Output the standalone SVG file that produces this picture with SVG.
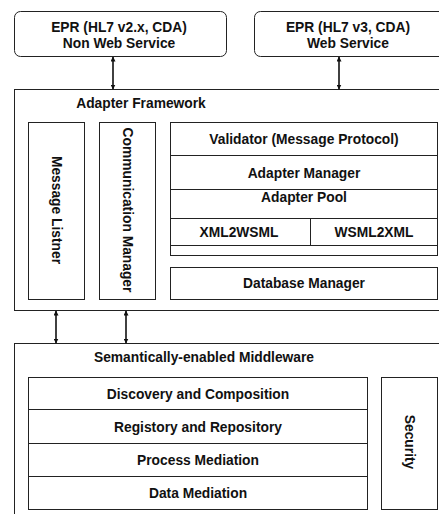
<svg xmlns="http://www.w3.org/2000/svg" width="439" height="514" viewBox="0 0 439 514">
<style>
.b{fill:#fff;stroke:#222;stroke-width:1}
.t{font-family:"Liberation Sans",Arial,sans-serif;font-weight:bold;font-size:13.8px;fill:#111;text-anchor:middle;dominant-baseline:central}
.c{stroke:#111;stroke-width:1.6;fill:none;marker-start:url(#a);marker-end:url(#a)}
</style>
<defs>
<marker id="a" viewBox="0 0 10 10" refX="9" refY="5" markerWidth="5" markerHeight="5" orient="auto-start-reverse" markerUnits="userSpaceOnUse"><path d="M0,0L10,5L0,10z" fill="#111"/></marker>
</defs>
<rect width="439" height="514" fill="#fff"/>
<g id="epr-nonws"><rect class="b" x="14.5" y="11.5" width="212" height="45" rx="6"/><text class="t" x="119" y="27">EPR (HL7 v2.x, CDA)</text><text class="t" x="119" y="43">Non Web Service</text></g>
<g id="epr-ws"><rect class="b" x="254.5" y="11.5" width="200" height="45" rx="6"/><text class="t" x="348" y="27">EPR (HL7 v3, CDA)</text><text class="t" x="348" y="43">Web Service</text></g>
<g id="adapter-framework"><rect class="b" x="14.5" y="89.5" width="440" height="221"/><text class="t" x="141" y="103">Adapter Framework</text></g>
<g id="message-listner"><rect class="b" x="28.5" y="122.5" width="56" height="177"/><text class="t" transform="translate(56,210) rotate(90)">Message Listner</text></g>
<g id="communication-manager"><rect class="b" x="99.5" y="122.5" width="56" height="177"/><text class="t" transform="translate(127,210) rotate(90)">Communication Manager</text></g>
<g id="adapter-stack"><rect class="b" x="170.5" y="122.5" width="267" height="133"/>
<line x1="170.5" y1="155.5" x2="437.5" y2="155.5" stroke="#222"/>
<line x1="170.5" y1="189.5" x2="437.5" y2="189.5" stroke="#222"/>
<line x1="170.5" y1="218.5" x2="437.5" y2="218.5" stroke="#222"/>
<line x1="170.5" y1="245.5" x2="437.5" y2="245.5" stroke="#222"/>
<line x1="310.5" y1="218.5" x2="310.5" y2="245.5" stroke="#222"/>
<text class="t" x="304" y="139">Validator (Message Protocol)</text>
<text class="t" x="304" y="173">Adapter Manager</text>
<text class="t" x="304" y="197">Adapter Pool</text>
<text class="t" x="239" y="232">XML2WSML</text>
<text class="t" x="374" y="232">WSML2XML</text></g>
<g id="database-manager"><rect class="b" x="170.5" y="267.5" width="267" height="32"/><text class="t" x="304" y="283">Database Manager</text></g>
<g id="middleware"><rect class="b" x="14.5" y="343.5" width="440" height="190"/><text class="t" x="204" y="357">Semantically-enabled Middleware</text></g>
<g id="middleware-stack"><rect class="b" x="28.5" y="377.5" width="339" height="132"/>
<line x1="28.5" y1="409.5" x2="367.5" y2="409.5" stroke="#222"/>
<line x1="28.5" y1="443.5" x2="367.5" y2="443.5" stroke="#222"/>
<line x1="28.5" y1="476.5" x2="367.5" y2="476.5" stroke="#222"/>
<text class="t" x="198" y="394">Discovery and Composition</text>
<text class="t" x="198" y="427">Registory and Repository</text>
<text class="t" x="198" y="460">Process Mediation</text>
<text class="t" x="198" y="493">Data Mediation</text></g>
<g id="security"><rect class="b" x="381.5" y="377.5" width="56" height="132"/><text class="t" transform="translate(409,442) rotate(90)">Security</text></g>
<g id="connectors">
<line class="c" x1="113" y1="57" x2="113" y2="89"/>
<line class="c" x1="339" y1="57" x2="339" y2="89"/>
<line class="c" x1="56" y1="311" x2="56" y2="343"/>
<line class="c" x1="126" y1="311" x2="126" y2="343"/>
</g>
</svg>
